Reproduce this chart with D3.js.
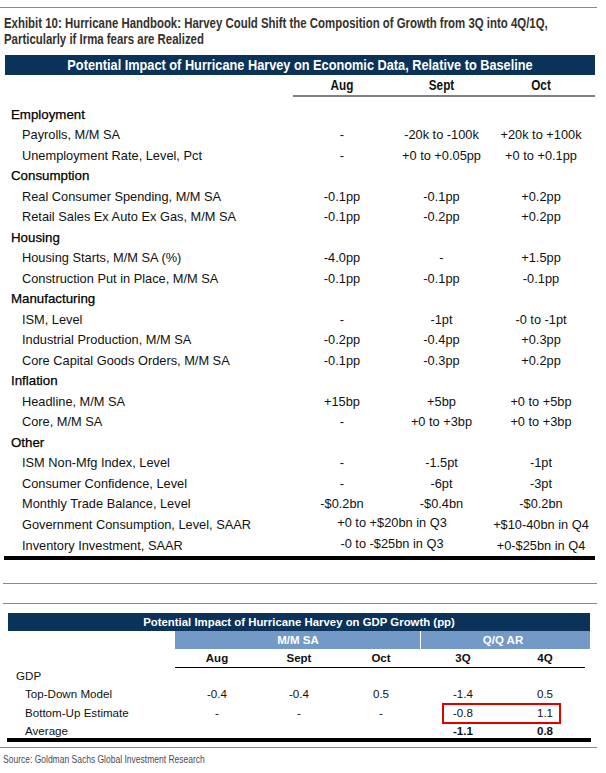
<!DOCTYPE html>
<html><head><meta charset="utf-8">
<script src="https://cdn.jsdelivr.net/npm/d3@7/dist/d3.min.js"></script>
<style>body{margin:0;background:#fff}svg{display:block}</style>
</head><body>
<script>
// ---- data ----
const titleLines = ["Exhibit 10: Hurricane Handbook: Harvey Could Shift the Composition of Growth from 3Q into 4Q/1Q,",
                    "Particularly if Irma fears are Realized"];
const table1Title = "Potential Impact of Hurricane Harvey on Economic Data, Relative to Baseline";
const months = ["Aug", "Sept", "Oct"];
// line type: "h" = section header, "r" = row
const lineTypes = ["h","r","r","h","r","r","h","r","r","h","r","r","r","h","r","r","h","r","r","r","r","r"];
const lineLabels = ["Employment","Payrolls, M/M SA","Unemployment Rate, Level, Pct",
  "Consumption","Real Consumer Spending, M/M SA","Retail Sales Ex Auto Ex Gas, M/M SA",
  "Housing","Housing Starts, M/M SA (%)","Construction Put in Place, M/M SA",
  "Manufacturing","ISM, Level","Industrial Production, M/M SA","Core Capital Goods Orders, M/M SA",
  "Inflation","Headline, M/M SA","Core, M/M SA",
  "Other","ISM Non-Mfg Index, Level","Consumer Confidence, Level","Monthly Trade Balance, Level",
  "Government Consumption, Level, SAAR","Inventory Investment, SAAR"];
const augVals  = ["","-","-","","-0.1pp","-0.1pp","","-4.0pp","-0.1pp","","-","-0.2pp","-0.1pp","","+15bp","-","","-","-","-$0.2bn","",""];
const septVals = ["","-20k to -100k","+0 to +0.05pp","","-0.1pp","-0.2pp","","-","-0.1pp","","-1pt","-0.4pp","-0.3pp","","+5bp","+0 to +3bp","","-1.5pt","-6pt","-$0.4bn","",""];
const octVals  = ["","+20k to +100k","+0 to +0.1pp","","+0.2pp","+0.2pp","","+1.5pp","-0.1pp","","-0 to -1pt","+0.3pp","+0.2pp","","+0 to +5bp","+0 to +3bp","","-1pt","-3pt","-$0.2bn","+$10-40bn in Q4","+0-$25bn in Q4"];
// values spanning the Aug+Sept columns (Q3 cells)
const q3SpanVals = ["","","","","","","","","","","","","","","","","","","","","+0 to +$20bn in Q3","-0 to -$25bn in Q3"];

const table2Title = "Potential Impact of Hurricane Harvey on GDP Growth (pp)";
const groups2 = ["M/M SA", "Q/Q AR"];
const cols2 = ["Aug", "Sept", "Oct", "3Q", "4Q"];
const rows2Labels = ["GDP", "Top-Down Model", "Bottom-Up Estimate", "Average"];
const rows2Types = ["h", "r", "r", "avg"];
const topDown = ["-0.4", "-0.4", "0.5", "-1.4", "0.5"];
const bottomUp = ["-", "-", "-", "-0.8", "1.1"];
const average = ["", "", "", "-1.1", "0.8"];
const sourceText = "Source: Goldman Sachs Global Investment Research";

// ---- drawing ----
const W = 606, H = 773;
const navy = "#0b3259", lightBlue = "#7399c6";
const bodyFont = "'Liberation Sans', Arial, sans-serif";

const svg = d3.select("body").append("svg").attr("width", W).attr("height", H);

// horizontally condense text (emulates a narrow typeface) via a transform
function condense(sel, factor) {
  sel.each(function () {
    const t = d3.select(this);
    const x = +t.attr("x"), y = +t.attr("y");
    t.attr("x", 0).attr("y", 0).attr("transform", `translate(${x},${y}) scale(${factor},1)`);
  });
  return sel;
}

// top rule
svg.append("line").attr("x1", 0).attr("x2", 597).attr("y1", 7.5).attr("y2", 7.5)
  .attr("stroke", "#8a8a8a").attr("stroke-width", 1);

// title
const titleSel = svg.selectAll("text.title").data(titleLines).join("text").attr("class", "title")
  .attr("x", 4).attr("y", (d, i) => 28 + i * 15.5)
  .attr("font-family", bodyFont).attr("font-weight", "bold").attr("font-size", 14.5)
  .attr("fill", "#35312d").text(d => d);
const titleFactor = 544 / titleSel.node().getComputedTextLength();
condense(titleSel, titleFactor);

// table 1 header bar
svg.append("rect").attr("x", 5).attr("y", 55).attr("width", 590).attr("height", 20).attr("fill", navy);
const hdr1 = svg.append("text").attr("x", 300).attr("y", 69.5).attr("text-anchor", "middle")
  .attr("font-family", bodyFont).attr("font-weight", "bold").attr("font-size", 14)
  .attr("fill", "#fff").text(table1Title);
condense(hdr1, 466 / hdr1.node().getComputedTextLength());

const x1 = d3.scalePoint().domain(months).range([342, 541]);
const mh = svg.selectAll("text.mh").data(months).join("text").attr("class", "mh")
  .attr("x", d => x1(d)).attr("y", 90).attr("text-anchor", "middle")
  .attr("font-family", bodyFont).attr("font-weight", "bold").attr("font-size", 14)
  .attr("fill", "#111").text(d => d);
condense(mh, 0.84);
svg.append("line").attr("x1", 293).attr("x2", 595).attr("y1", 96).attr("y2", 96)
  .attr("stroke", "#000").attr("stroke-width", 1.2);

const y1 = d3.scaleLinear().domain([0, lineLabels.length - 1]).range([114, 545]);
const g1 = svg.append("g").attr("font-family", bodyFont).attr("font-size", 12.8).attr("fill", "#111");
lineLabels.forEach((lab, i) => {
  const yy = y1(i) + 4.5;
  g1.append("text").attr("x", lineTypes[i] === "h" ? 11 : 22).attr("y", yy)
    .attr("font-size", lineTypes[i] === "h" ? 13.3 : 12.8)
    .attr("fill", lineTypes[i] === "h" ? "#000" : "#111")
    .attr("stroke", lineTypes[i] === "h" ? "#000" : "none").attr("stroke-width", 0.25)
    .text(lab);
  [[augVals, "Aug"], [septVals, "Sept"], [octVals, "Oct"]].forEach(([arr, m]) => {
    if (arr[i]) g1.append("text").attr("x", x1(m)).attr("y", yy).attr("text-anchor", "middle").text(arr[i]);
  });
  if (q3SpanVals[i]) g1.append("text").attr("x", 392).attr("y", yy - 1.5)
    .attr("text-anchor", "middle").text(q3SpanVals[i]);
});
// thick bottom rule
svg.append("rect").attr("x", 4).attr("y", 556).attr("width", 591).attr("height", 4).attr("fill", "#000");

// separator rules
[583.5, 603.5].forEach(yy => svg.append("line").attr("x1", 3).attr("x2", 597).attr("y1", yy).attr("y2", yy)
  .attr("stroke", "#8a8a8a").attr("stroke-width", 1));

// table 2
svg.append("rect").attr("x", 8).attr("y", 613).attr("width", 582).attr("height", 18).attr("fill", navy);
const hdr2 = svg.append("text").attr("x", 299).attr("y", 626).attr("text-anchor", "middle")
  .attr("font-family", bodyFont).attr("font-weight", "bold").attr("font-size", 11.5)
  .attr("fill", "#fff").text(table2Title);
condense(hdr2, 312 / hdr2.node().getComputedTextLength());

const x2 = d3.scalePoint().domain(cols2).range([217, 545]);
const groupSpan = { "M/M SA": [175, 420], "Q/Q AR": [421, 590] };
groups2.forEach(gname => {
  const [a, b] = groupSpan[gname];
  svg.append("rect").attr("x", a).attr("y", 631).attr("width", b - a).attr("height", 18).attr("fill", lightBlue);
  svg.append("text").attr("x", gname === "M/M SA" ? 298 : 503).attr("y", 644).attr("text-anchor", "middle")
    .attr("font-family", bodyFont).attr("font-weight", "bold").attr("font-size", 11.5)
    .attr("fill", "#fff").text(gname);
});
svg.selectAll("text.c2").data(cols2).join("text").attr("class", "c2")
  .attr("x", d => x2(d)).attr("y", 662).attr("text-anchor", "middle")
  .attr("font-family", bodyFont).attr("font-weight", "bold").attr("font-size", 11.5)
  .attr("fill", "#111").text(d => d);
svg.append("line").attr("x1", 175).attr("x2", 585).attr("y1", 667.5).attr("y2", 667.5)
  .attr("stroke", "#000").attr("stroke-width", 1.2);

const y2 = d3.scaleLinear().domain([0, rows2Labels.length - 1]).range([680, 735]);
const vals2 = [null, topDown, bottomUp, average];
const g2 = svg.append("g").attr("font-family", bodyFont).attr("font-size", 11.6).attr("fill", "#111");
rows2Labels.forEach((lab, i) => {
  const yy = y2(i);
  g2.append("text").attr("x", rows2Types[i] === "h" ? 16 : 25).attr("y", yy).text(lab);
  if (vals2[i]) vals2[i].forEach((v, j) => {
    if (v) g2.append("text").attr("x", x2(cols2[j])).attr("y", yy).attr("text-anchor", "middle")
      .attr("font-weight", rows2Types[i] === "avg" ? "bold" : "normal").text(v);
  });
});
// red highlight box around bottom-up quarterly estimates
const bx0 = x2("3Q") - 20, bx1 = x2("4Q") + 15;
svg.append("rect").attr("x", bx0).attr("y", 704).attr("width", bx1 - bx0).attr("height", 19)
  .attr("fill", "none").attr("stroke", "#e00000").attr("stroke-width", 2);

svg.append("rect").attr("x", 7).attr("y", 738).attr("width", 584).attr("height", 4).attr("fill", "#000");
svg.append("line").attr("x1", 0).attr("x2", 597).attr("y1", 747.5).attr("y2", 747.5)
  .attr("stroke", "#8a8a8a").attr("stroke-width", 1);
const src = svg.append("text").attr("x", 3).attr("y", 763).attr("font-family", bodyFont).attr("font-size", 10.5)
  .attr("fill", "#4a4a52").text(sourceText);
condense(src, 202 / src.node().getComputedTextLength());
</script>
</body></html>
